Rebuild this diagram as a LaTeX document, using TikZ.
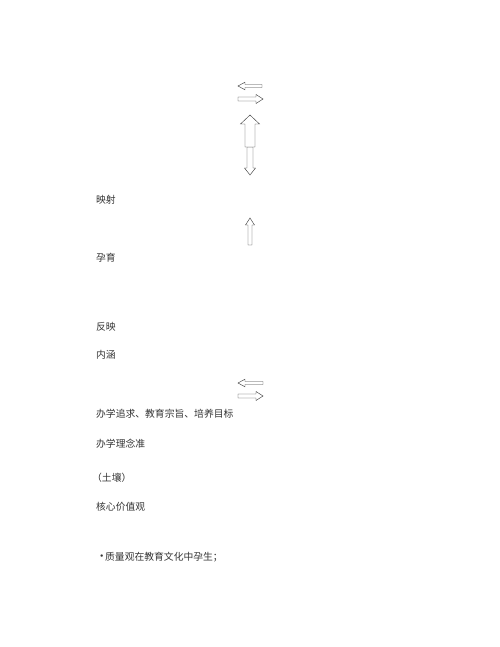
\documentclass[tikz,border=0pt]{standalone}
\usepackage{fontspec}
\setmainfont{Noto Sans CJK SC}
\usetikzlibrary{positioning}
\tikzset{
  >=stealth,
  arrowline/.style={draw=black!75, line width=0.55pt, fill=white},
  label/.style={
    anchor=west,
    inner sep=0pt,
    text=black!80,
    font=\fontsize{12pt}{14pt}\selectfont
  },
  % hollow block arrow: length/shaft half width/head half width/head length
  pics/hollowarrow/.style args={#1/#2/#3/#4}{
    code={
      \draw[arrowline] (0,-#2) -- (#1-#4,-#2) -- (#1-#4,-#3) -- (#1,0)
        -- (#1-#4,#3) -- (#1-#4,#2) -- (0,#2) -- cycle;
    }
  },
}
\begin{document}
\begin{tikzpicture}
      [x=1.224pt, y=-1.224pt]
      \useasboundingbox (0,0) rectangle (500,647);
      % arrows
      \pic[rotate=180] at (262,86) {hollowarrow=24/1.5/3.8/7};
      \pic at (238,99) {hollowarrow=25/2/4.5/7};
      \pic[rotate=-90] at (250,147) {hollowarrow=28/3/5.5/7};
      \pic[rotate=90] at (250,147) {hollowarrow=32/5/9.5/9};
      \pic[rotate=90] at (250,245) {hollowarrow=27/2/4.5/7};
      \pic[rotate=180] at (263,383) {hollowarrow=25/1.5/3.8/7};
      \pic at (238,396) {hollowarrow=25/2/4.5/7};
      % labels
      \node[label] (ys) at (96,200) {映射};
      \node[label] (yy) at (96,258) {孕育};
      \node[label] (fy) at (96,327) {反映};
      \node[label] (nh) at (96,355) {内涵};
      \node[label] (bx) at (96,414) {办学追求、教育宗旨、培养目标};
      \node[label] (bl) at (96,444) {办学理念准};
      \node[label] (tr) at (92,478) {（土壤）};
      \node[label] (hx) at (96,507) {核心价值观};
      \node[label] (zl) at (100,557)
        {\raisebox{0.3em}{\scriptsize$\bullet$}\hspace{2pt}质量观在教育文化中孕生；};
\end{tikzpicture}
\end{document}
